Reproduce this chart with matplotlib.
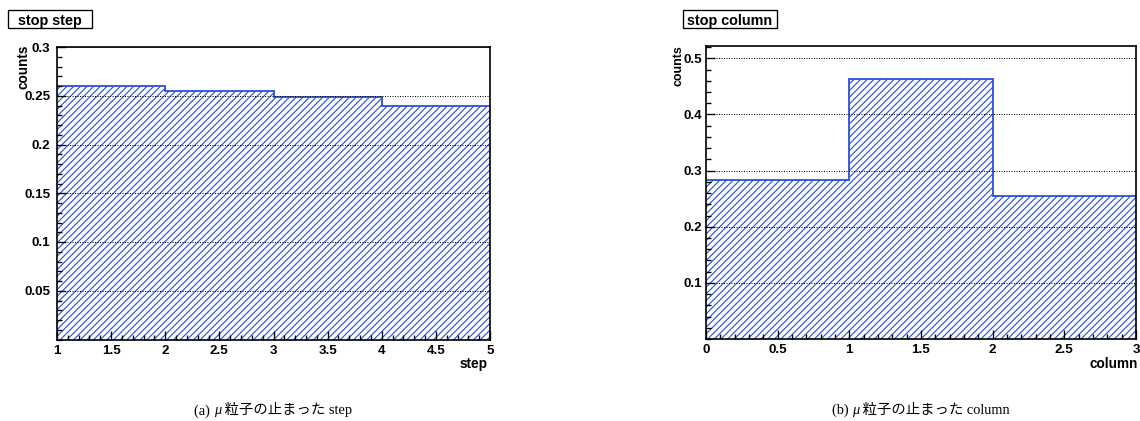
import matplotlib
matplotlib.use("Agg")
import matplotlib.pyplot as plt
from matplotlib.patches import Rectangle
from matplotlib.ticker import MultipleLocator, FormatStrFormatter
from matplotlib.offsetbox import TextArea, HPacker, AnnotationBbox

# Stopping position of muons: per-step and per-column fractions
step_edges = [1, 2, 3, 4, 5]
step_counts = [0.2595, 0.2545, 0.2483, 0.2398]

column_edges = [0, 1, 2, 3]
column_counts = [0.2827, 0.4625, 0.254]

HIST_BLUE = "#2f52d6"
DPI = 120
W, H = 1140, 421

plt.rcParams["hatch.linewidth"] = 0.7
plt.rcParams["font.family"] = ["Liberation Sans", "DejaVu Sans"]

fig = plt.figure(figsize=(W / DPI, H / DPI), dpi=DPI)


def px(x0, y0, x1, y1):
    """Pixel box (top-left origin) -> figure fraction rect."""
    return [x0 / W, 1 - y1 / H, (x1 - x0) / W, (y1 - y0) / H]


def style_axes(ax, xmajor, xminor, ymajor, yminor, ypad):
    for s in ax.spines.values():
        s.set_linewidth(1.0)
        s.set_color("black")
    ax.xaxis.set_major_locator(MultipleLocator(xmajor))
    ax.xaxis.set_minor_locator(MultipleLocator(xminor))
    ax.yaxis.set_major_locator(MultipleLocator(ymajor))
    ax.yaxis.set_minor_locator(MultipleLocator(yminor))
    ax.xaxis.set_major_formatter(FormatStrFormatter("%g"))
    ax.yaxis.set_major_formatter(FormatStrFormatter("%g"))
    ax.tick_params(which="both", direction="in", top=False, right=False,
                   width=0.8, colors="black")
    ax.tick_params(which="major", length=5.4, labelsize=8.0)
    ax.tick_params(axis="y", which="major", pad=ypad)
    ax.tick_params(axis="x", which="major", pad=3.0)
    ax.tick_params(which="minor", length=2.8)
    ax.yaxis.grid(True, linestyle=(0, (1, 1.5)), color="black", linewidth=0.6)
    ax.set_axisbelow(False)


def draw_hist(ax, edges, counts):
    ax.stairs(counts, edges, fill=True, facecolor="white",
              edgecolor=HIST_BLUE, hatch="//////", linewidth=0, zorder=1)
    ax.stairs(counts, edges, fill=False, color=HIST_BLUE,
              linewidth=1.1, zorder=1.5, baseline=None)


def bold_ticklabels(ax):
    for lab in ax.get_xticklabels() + ax.get_yticklabels():
        lab.set_fontweight("bold")


# --- left: stop step ---
ax1 = fig.add_axes(px(57, 47, 490, 339.5))
draw_hist(ax1, step_edges, step_counts)
ax1.set_xlim(1, 5)
ax1.set_ylim(0, 0.3)
style_axes(ax1, 0.5, 0.1, 0.05, 0.01, 4.0)
ax1.set_yticks([0.05, 0.1, 0.15, 0.2, 0.25, 0.3])
bold_ticklabels(ax1)

# --- right: stop column ---
ax2 = fig.add_axes(px(706, 45.7, 1136, 339))
draw_hist(ax2, column_edges, column_counts)
ax2.set_xlim(0, 3)
ax2.set_ylim(0, 0.5225)
style_axes(ax2, 0.5, 0.1, 0.1, 0.02, 2.5)
ax2.set_yticks([0.1, 0.2, 0.3, 0.4, 0.5])
bold_ticklabels(ax2)

# axis titles
lab_kw = dict(fontsize=8.2, fontweight="bold", color="black")
fig.text(23 / W, 1 - 45 / H, "counts", rotation=90, ha="center", va="top", **lab_kw)
fig.text(679 / W, 1 - 45 / H, "counts", rotation=90, ha="center", va="top",
         fontsize=7.4, fontweight="bold", color="black")
fig.text(488 / W, 1 - 364 / H, "step", ha="right", va="center", **lab_kw)
fig.text(1138 / W, 1 - 364 / H, "column", ha="right", va="center", **lab_kw)


# histogram title boxes
def title_box(x0, x1, text):
    y0, y1 = 10, 28
    fig.add_artist(Rectangle((x0 / W, 1 - y1 / H), (x1 - x0) / W, (y1 - y0) / H,
                             transform=fig.transFigure, facecolor="white",
                             edgecolor="black", linewidth=0.8))
    fig.text((x0 + x1) / 2 / W, 1 - (y0 + y1) / 2 / H, text, ha="center",
             va="center_baseline", fontsize=8.6, fontweight="bold")


title_box(8, 92, "stop step")
title_box(683, 777, "stop column")

# sub-figure captions
cap_fams = ["Liberation Serif", "Noto Sans CJK JP"]


def caption(xc, yc, tag, tail):
    parts = [
        TextArea(tag, textprops=dict(family=cap_fams, fontsize=8.6)),
        TextArea("\u03bc", textprops=dict(family=cap_fams, fontsize=8.6,
                                          style="italic")),
        TextArea(tail, textprops=dict(family=cap_fams, fontsize=8.6)),
    ]
    pack = HPacker(children=parts, pad=0, sep=0, align="baseline")
    ab = AnnotationBbox(pack, (xc / W, 1 - yc / H), xycoords="figure fraction",
                        frameon=False, box_alignment=(0.5, 0.5), pad=0)
    fig.add_artist(ab)


caption(273, 410, "(a) ", " 粒子の止まった step")
caption(921, 410, "(b) ", " 粒子の止まった column")

fig.savefig("out.png", dpi=DPI)
